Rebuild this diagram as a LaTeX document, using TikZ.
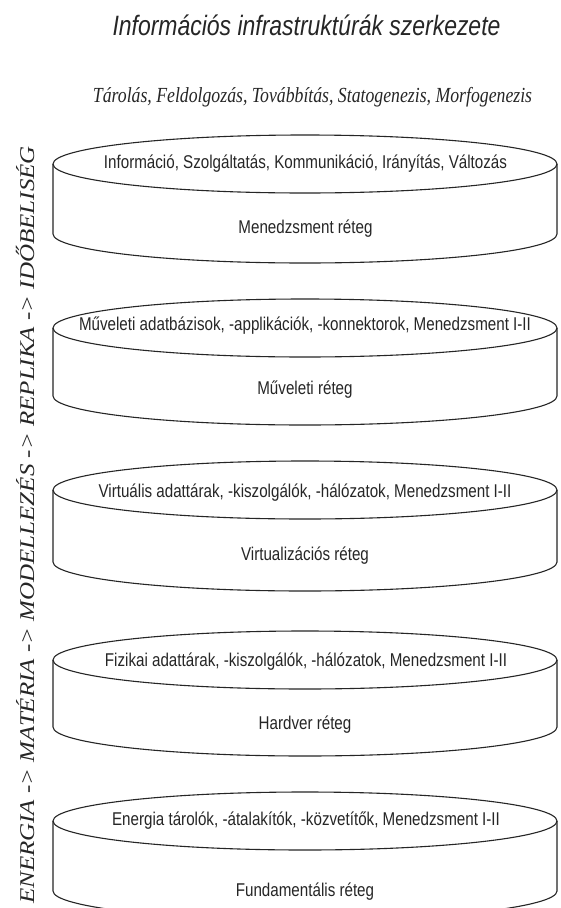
\documentclass[tikz,border=0pt]{standalone}
\usepackage{fontspec}
\setmainfont{Liberation Serif}
\newfontfamily\narrowsans[FakeStretch=0.82]{Liberation Sans}
\newfontfamily\narrowserif[FakeStretch=0.825]{Liberation Serif}
\newfontfamily\wideserif[FakeStretch=1.19]{Liberation Serif}
\begin{document}
\begin{tikzpicture}[x=1pt,y=-1pt,
  cylline/.style={draw=black!85, line width=1.1pt},
  titletxt/.style={font=\narrowsans\itshape\fontsize{28}{30}\selectfont, text=black!85, inner sep=0pt},
  subtxt/.style={font=\narrowserif\itshape\fontsize{21.5}{24}\selectfont, text=black!85, inner sep=0pt},
  sidetxt/.style={font=\wideserif\itshape\fontsize{21}{24}\selectfont, text=black!85, inner sep=0pt, rotate=90},
  toptxt/.style={font=\narrowsans\fontsize{18.5}{20}\selectfont, text=black!85, inner sep=0pt},
  bottxt/.style={font=\narrowsans\fontsize{18.5}{20}\selectfont, text=black!85, inner sep=0pt}]
\useasboundingbox (0,0) rectangle (561,908);
\clip (0,0) rectangle (561,908);
\fill[white] (0,0) rectangle (561,908);
\newcommand\layercyl[2]{%
  \draw[cylline] (305,#1) ellipse [x radius=252, y radius=29];
  \draw[cylline] (53,#1) -- (53,#1+#2) arc[start angle=180, end angle=0, x radius=252, y radius=29] -- (557,#1);
}
\layercyl{164}{70}
\layercyl{328}{68}
\layercyl{490}{72}
\layercyl{660}{67}
\layercyl{821}{70}
\node[titletxt] (title) at (306.5,25) {Információs infrastruktúrák szerkezete};
\node[subtxt] (sub) at (312.5,97) {Tárolás, Feldolgozás, Továbbítás, Statogenezis, Morfogenezis};
\node[sidetxt] (side) at (25,525) {ENERGIA -> MATÉRIA -> MODELLEZÉS -> REPLIKA -> IDŐBELISÉG};
\node[toptxt] (t1) at (305.5,164) {Információ, Szolgáltatás, Kommunikáció, Irányítás, Változás};
\node[bottxt] (b1) at (305.5,229) {Menedzsment réteg};
\node[toptxt] (t2) at (305,326) {Műveleti adatbázisok, -applikációk, -konnektorok, Menedzsment I-II};
\node[bottxt] (b2) at (305,390) {Műveleti réteg};
\node[toptxt] (t3) at (305,493) {Virtuális adattárak, -kiszolgálók, -hálózatok, Menedzsment I-II};
\node[bottxt] (b3) at (305,556) {Virtualizációs réteg};
\node[toptxt] (t4) at (306,662) {Fizikai adattárak, -kiszolgálók, -hálózatok, Menedzsment I-II};
\node[bottxt] (b4) at (305,725) {Hardver réteg};
\node[toptxt] (t5) at (306,821) {Energia tárolók, -átalakítók, -közvetítők, Menedzsment I-II};
\node[bottxt] (b5) at (305,892) {Fundamentális réteg};
\end{tikzpicture}
\end{document}
